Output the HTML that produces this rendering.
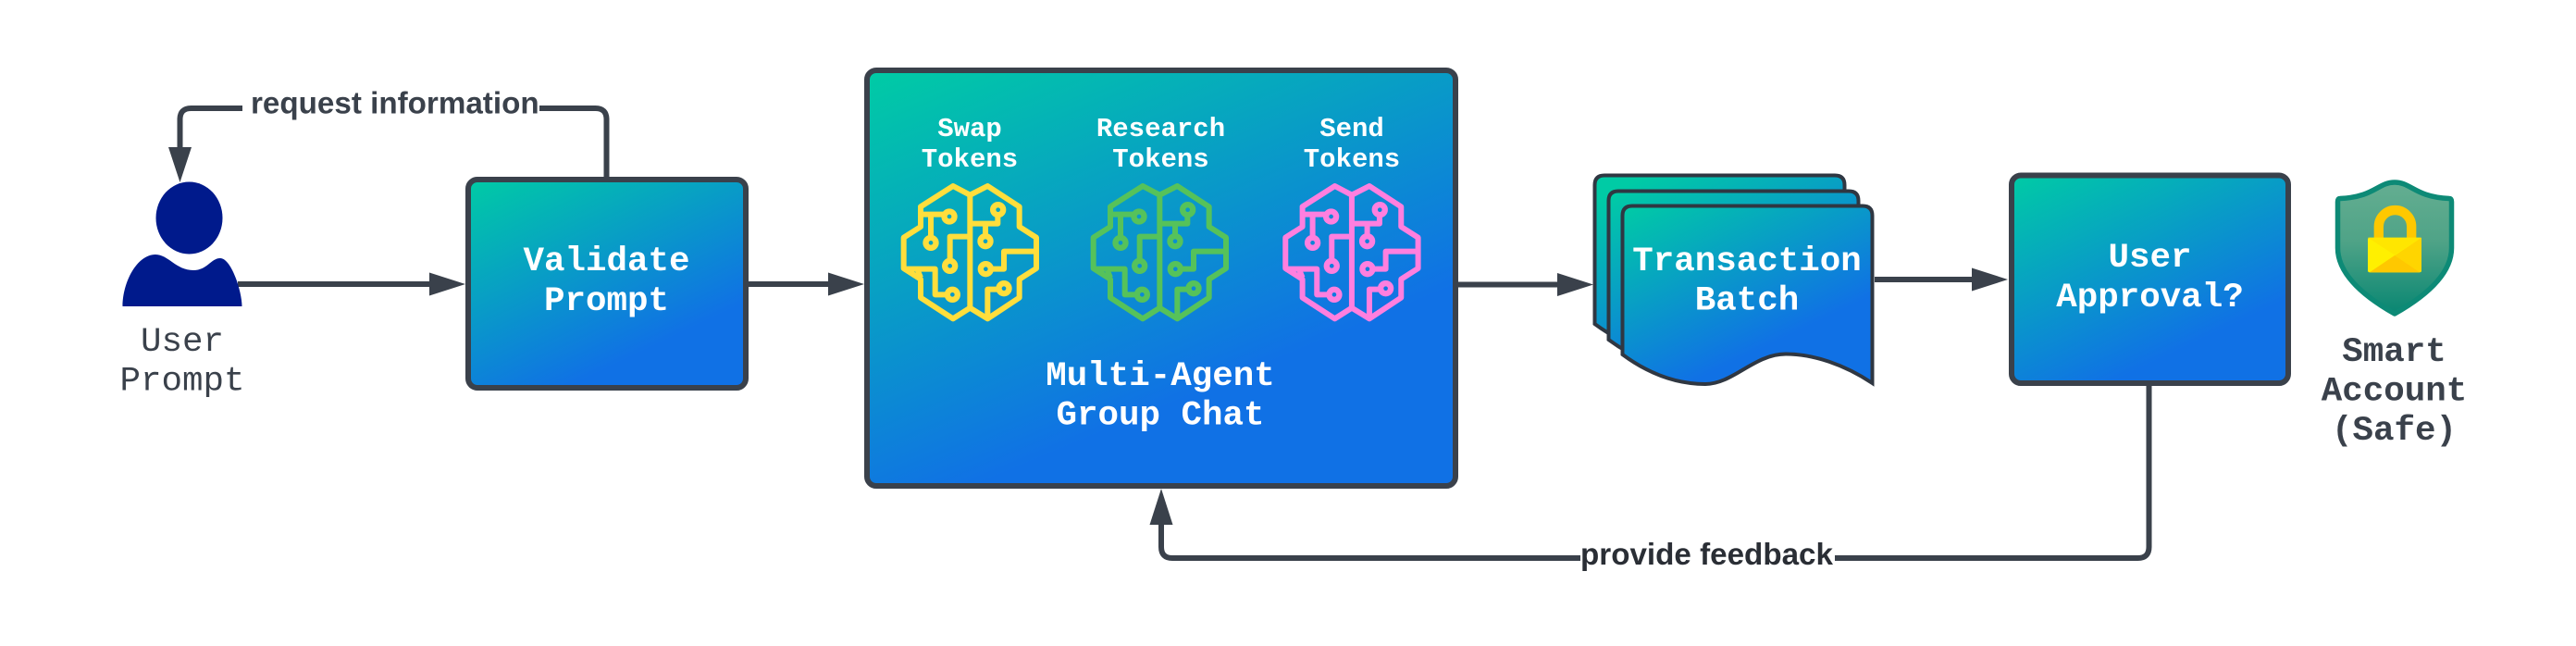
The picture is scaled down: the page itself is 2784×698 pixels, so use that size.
<!DOCTYPE html>
<html>
<head>
<meta charset="utf-8">
<style>
html,body{margin:0;padding:0;background:#fff;width:2784px;height:698px;overflow:hidden}
svg{display:block}
.m{font-family:"Liberation Mono",monospace;text-anchor:middle}
.b{font-weight:700}
.w{fill:#fff}
.d{fill:#3a414b}
.l{font-family:"Liberation Sans",sans-serif;font-weight:700;font-size:33.2px}
</style>
</head>
<body>
<svg width="2784" height="698" viewBox="0 0 2784 698" xmlns="http://www.w3.org/2000/svg">
<defs>
<linearGradient id="gV" gradientUnits="userSpaceOnUse" x1="585" y1="157.500" x2="727" y2="455.500"><stop offset="0" stop-color="#00cba5"/><stop offset=".75" stop-color="#1071e5"/></linearGradient>
<linearGradient id="gM" gradientUnits="userSpaceOnUse" x1="1130" y1="0" x2="1380" y2="600"><stop offset="0" stop-color="#00cba5"/><stop offset=".7" stop-color="#1071e5"/></linearGradient>
<linearGradient id="gA" gradientUnits="userSpaceOnUse" x1="2253" y1="152.750" x2="2394" y2="450.750"><stop offset="0" stop-color="#00cba5"/><stop offset=".75" stop-color="#1071e5"/></linearGradient>
<linearGradient id="gD3" gradientUnits="userSpaceOnUse" x1="1826.400" y1="188" x2="1951.600" y2="450"><stop offset="0" stop-color="#00cba5"/><stop offset=".7" stop-color="#1071e5"/></linearGradient>
<linearGradient id="gD2" gradientUnits="userSpaceOnUse" x1="1816" y1="175" x2="1941" y2="437"><stop offset="0" stop-color="#00cba5"/><stop offset=".7" stop-color="#1071e5"/></linearGradient>
<linearGradient id="gD1" gradientUnits="userSpaceOnUse" x1="1806.700" y1="176.600" x2="1931.900" y2="438.600"><stop offset="0" stop-color="#00cba5"/><stop offset=".7" stop-color="#1071e5"/></linearGradient>
<linearGradient id="gS" x1="0" y1="0" x2="0" y2="1"><stop offset="0" stop-color="#64ae91"/><stop offset=".45" stop-color="#4fa387"/><stop offset="1" stop-color="#088672"/></linearGradient>
<g id="brain" fill="none" stroke-width="18" stroke-linejoin="round" stroke-linecap="butt">
<path d="M265,62 L210,33 L105,100 V165 L50,200 V300 L105,335 V395 L210,463 L265,428 L322,463 L425,395 V335 L480,300 V200 L425,165 V100 L322,33 Z"/>
<path d="M265,62 V428"/>
<path d="M105,125 H180"/><circle cx="198" cy="132" r="16.500" stroke-width="19"/>
<path d="M138,125 V200"/><circle cx="138" cy="217" r="16.500" stroke-width="19"/>
<path d="M265,197 H200 V275"/><circle cx="200" cy="292" r="16.500" stroke-width="19"/>
<path d="M50,302 H152 V385 H190"/><circle cx="208" cy="385" r="16.500" stroke-width="19"/>
<path d="M96,308 L105,330"/>
<path d="M265,155 H355 V125"/><circle cx="356" cy="110" r="16.500" stroke-width="19"/>
<path d="M315,155 V195"/><circle cx="315" cy="212" r="16.500" stroke-width="19"/>
<path d="M480,245 H375 V302 H335"/><circle cx="316" cy="302" r="16.500" stroke-width="19"/>
<path d="M322,463 V368 H360"/><circle cx="375" cy="365" r="16.500" stroke-width="19"/>
</g>
</defs>

<!-- connectors -->
<g fill="none" stroke="#3a414b" stroke-width="6">
<path d="M655.500,192 V129 Q655.500,117 643.500,117 H583"/>
<path d="M262,117 H206.500 Q194.500,117 194.500,129 V160"/>
<path d="M257,307 H466"/>
<path d="M808,307 H897"/>
<path d="M1576,307.500 H1685"/>
<path d="M2026,302 H2133"/>
<path d="M2322.500,416 V591 Q2322.500,603 2310.500,603 H1983"/>
<path d="M1708,603 H1267 Q1255,603 1255,591 V565"/>
</g>
<g fill="#3a414b">
<polygon points="182,159 207,159 194.500,197"/>
<polygon points="464,294.500 464,319.500 503,307"/>
<polygon points="895,294.500 895,319.500 934,307"/>
<polygon points="1683,295 1683,320 1722,307.500"/>
<polygon points="2131,289.500 2131,314.500 2170,302"/>
<polygon points="1242.500,567 1267.500,567 1255,528"/>
</g>

<!-- user -->
<ellipse cx="204.500" cy="235.500" rx="36" ry="39" fill="#001a8c"/>
<path d="M132.500,331 C132.500,305 148,275 168,275 C182,275 190,292 209,292 C224,292 228,279 238,279 C250,279 261.500,315 261.500,331 Z" fill="#001a8c"/>
<text class="m d" font-size="37.500" x="197" y="379">User</text>
<text class="m d" font-size="37.500" x="197" y="421.500">Prompt</text>

<text class="l" x="271" y="122.500" fill="#3a414b">request information</text>

<!-- validate -->
<rect x="506" y="194" width="300" height="225" rx="10" fill="url(#gV)" stroke="#3a414b" stroke-width="6"/>
<text class="m b w" font-size="37.500" x="655.500" y="292">Validate</text>
<text class="m b w" font-size="37.500" x="655.500" y="335">Prompt</text>

<!-- multi-agent -->
<rect x="937" y="76" width="636" height="449" rx="10" fill="url(#gM)" stroke="#3a414b" stroke-width="6"/>
<text class="m b w" font-size="29" x="1048" y="147">Swap</text>
<text class="m b w" font-size="29" x="1048" y="180">Tokens</text>
<text class="m b w" font-size="29" x="1254.500" y="147">Research</text>
<text class="m b w" font-size="29" x="1254.500" y="180">Tokens</text>
<text class="m b w" font-size="29" x="1461" y="147">Send</text>
<text class="m b w" font-size="29" x="1461" y="180">Tokens</text>
<use href="#brain" stroke="#ffde3c" transform="translate(960,190) scale(.33333)"/>
<use href="#brain" stroke="#56c25a" transform="translate(1165,190) scale(.33333)"/>
<use href="#brain" stroke="#ff7fdf" transform="translate(1372.600,190) scale(.33333)"/>
<text class="m b w" font-size="37.500" x="1254" y="416">Multi-Agent</text>
<text class="m b w" font-size="37.500" x="1254" y="458.500">Group Chat</text>

<!-- documents -->
<g stroke="#2f3742" stroke-width="4">
<path fill="url(#gD1)" d="M1723.500,350 V200 Q1723.500,189.500 1734,189.500 H1983 Q1993.500,189.500 1993.500,200 V383 C1963.500,363 1930,350 1900,350 C1866,350 1843,382 1813,382 C1786,382 1756,374 1723.500,350 Z"/>
<path fill="url(#gD2)" d="M1738.500,367 V217 Q1738.500,206.500 1749,206.500 H1998 Q2008.500,206.500 2008.500,217 V400 C1978.500,380 1945,367 1915,367 C1881,367 1858,399 1828,399 C1801,399 1771,391 1738.500,367 Z"/>
<path fill="url(#gD3)" d="M1753.500,383 V233 Q1753.500,222.500 1764,222.500 H2013 Q2023.500,222.500 2023.500,233 V414 C1993.500,394 1960,382.500 1930,382.500 C1896,382.500 1873,415 1843,415 C1816,415 1786,407 1753.500,383 Z"/>
</g>
<text class="m b w" font-size="37.500" x="1888" y="292">Transaction</text>
<text class="m b w" font-size="37.500" x="1888" y="334.500">Batch</text>

<!-- approval -->
<rect x="2174" y="189.500" width="299" height="224.500" rx="10" fill="url(#gA)" stroke="#3a414b" stroke-width="6"/>
<text class="m b w" font-size="37.500" x="2323.500" y="288">User</text>
<text class="m b w" font-size="37.500" x="2323.500" y="331">Approval?</text>

<!-- shield -->
<path d="M2588,197 C2570,197 2566,213 2529,214.500 Q2526.500,214.500 2526.500,218 V268 C2526.500,298 2558,322 2588,339 C2618,322 2649.500,298 2649.500,268 V218 Q2649.500,214.500 2647,214.500 C2610,213 2606,197 2588,197 Z" fill="url(#gS)" stroke="#0d8a76" stroke-width="5.500" stroke-linejoin="round"/>
<path d="M2570.800,258 V244.700 a17.700,17.700 0 0 1 35.400,0 V258" fill="none" stroke="#ffc800" stroke-width="10.300"/>
<rect x="2559" y="256.700" width="58" height="37.600" rx="2" fill="#fff000"/>
<polygon points="2559,256.700 2617,256.700 2588,275.500" fill="#ffe600"/>
<polygon points="2617,256.700 2617,292 2615,294.300 2561,294.300" fill="#ffd500"/>
<polygon points="2561,294.300 2588,276 2615,294.300" fill="#ffc800"/>
<text class="m b d" font-size="37.500" x="2587.500" y="390">Smart</text>
<text class="m b d" font-size="37.500" x="2587.500" y="432.500">Account</text>
<text class="m b d" font-size="37.500" x="2587.500" y="475">(Safe)</text>

<text class="l" x="1708" y="610" fill="#2a2e35">provide feedback</text>
</svg>
</body>
</html>
